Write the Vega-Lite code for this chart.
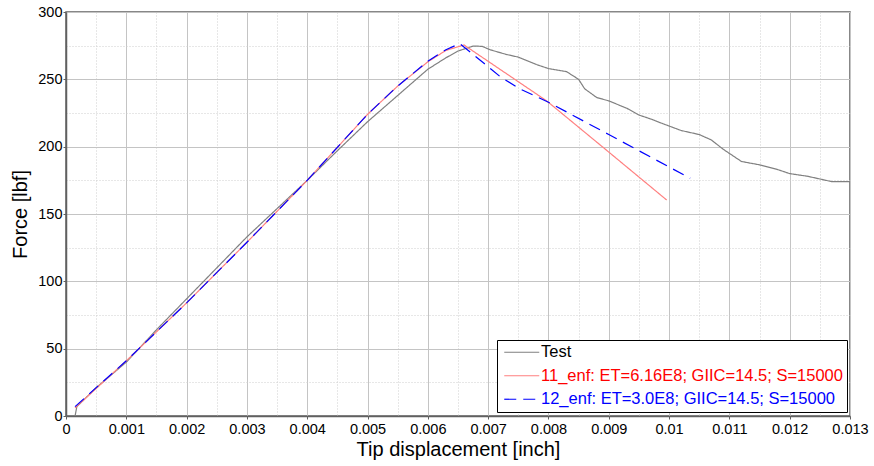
{
  "$schema": "https://vega.github.io/schema/vega-lite/v6.json",
  "width": 784,
  "height": 404,
  "autosize": {"type": "none"},
  "padding": {"left": 66, "top": 12, "right": 24, "bottom": 50},
  "background": "white",
  "config": {
    "view": {"stroke": "#606060", "strokeWidth": 1.5},
    "font": "Liberation Sans",
    "axis": {
      "labelFont": "Liberation Sans", "labelFontSize": 14.5, "labelColor": "#000",
      "titleFont": "Liberation Sans", "titleFontSize": 20, "titleFontWeight": "normal", "titleColor": "#000",
      "domainColor": "#606060", "domainWidth": 1.5,
      "tickColor": "#606060", "tickSize": 3
    }
  },
  "datasets": {
    "curves": [
      {"series": "Test", "disp": 0.00015, "force": 0},
      {"series": "Test", "disp": 0.00018, "force": 7},
      {"series": "Test", "disp": 0.0005, "force": 21},
      {"series": "Test", "disp": 0.001, "force": 40},
      {"series": "Test", "disp": 0.0015, "force": 64},
      {"series": "Test", "disp": 0.002, "force": 87},
      {"series": "Test", "disp": 0.0025, "force": 110},
      {"series": "Test", "disp": 0.003, "force": 133},
      {"series": "Test", "disp": 0.0035, "force": 154},
      {"series": "Test", "disp": 0.004, "force": 175},
      {"series": "Test", "disp": 0.0045, "force": 197},
      {"series": "Test", "disp": 0.005, "force": 218.5},
      {"series": "Test", "disp": 0.0055, "force": 238},
      {"series": "Test", "disp": 0.006, "force": 257.5},
      {"series": "Test", "disp": 0.0063, "force": 266},
      {"series": "Test", "disp": 0.0065, "force": 271},
      {"series": "Test", "disp": 0.00675, "force": 274.7},
      {"series": "Test", "disp": 0.0069, "force": 274.5},
      {"series": "Test", "disp": 0.00703, "force": 272},
      {"series": "Test", "disp": 0.0073, "force": 268.5},
      {"series": "Test", "disp": 0.0075, "force": 266.5},
      {"series": "Test", "disp": 0.0078, "force": 261},
      {"series": "Test", "disp": 0.008, "force": 258},
      {"series": "Test", "disp": 0.0083, "force": 255.7},
      {"series": "Test", "disp": 0.0085, "force": 250},
      {"series": "Test", "disp": 0.0086, "force": 243},
      {"series": "Test", "disp": 0.0088, "force": 236.5},
      {"series": "Test", "disp": 0.009, "force": 234},
      {"series": "Test", "disp": 0.0093, "force": 228.5},
      {"series": "Test", "disp": 0.0095, "force": 223.5},
      {"series": "Test", "disp": 0.0097, "force": 220.5},
      {"series": "Test", "disp": 0.0099, "force": 217},
      {"series": "Test", "disp": 0.0102, "force": 212},
      {"series": "Test", "disp": 0.0105, "force": 209},
      {"series": "Test", "disp": 0.0107, "force": 205},
      {"series": "Test", "disp": 0.0109, "force": 198},
      {"series": "Test", "disp": 0.011, "force": 195},
      {"series": "Test", "disp": 0.0112, "force": 189},
      {"series": "Test", "disp": 0.0115, "force": 186.5},
      {"series": "Test", "disp": 0.0118, "force": 183},
      {"series": "Test", "disp": 0.012, "force": 180},
      {"series": "Test", "disp": 0.0123, "force": 178},
      {"series": "Test", "disp": 0.0126, "force": 175},
      {"series": "Test", "disp": 0.0127, "force": 174},
      {"series": "Test", "disp": 0.013, "force": 174},
      {"series": "11_enf: ET=6.16E8; GIIC=14.5; S=15000", "disp": 0.00015, "force": 6},
      {"series": "11_enf: ET=6.16E8; GIIC=14.5; S=15000", "disp": 0.001, "force": 41},
      {"series": "11_enf: ET=6.16E8; GIIC=14.5; S=15000", "disp": 0.002, "force": 84},
      {"series": "11_enf: ET=6.16E8; GIIC=14.5; S=15000", "disp": 0.003, "force": 129},
      {"series": "11_enf: ET=6.16E8; GIIC=14.5; S=15000", "disp": 0.004, "force": 175},
      {"series": "11_enf: ET=6.16E8; GIIC=14.5; S=15000", "disp": 0.005, "force": 224},
      {"series": "11_enf: ET=6.16E8; GIIC=14.5; S=15000", "disp": 0.0055, "force": 245},
      {"series": "11_enf: ET=6.16E8; GIIC=14.5; S=15000", "disp": 0.006, "force": 263},
      {"series": "11_enf: ET=6.16E8; GIIC=14.5; S=15000", "disp": 0.0063, "force": 271.5},
      {"series": "11_enf: ET=6.16E8; GIIC=14.5; S=15000", "disp": 0.0066, "force": 275.5},
      {"series": "11_enf: ET=6.16E8; GIIC=14.5; S=15000", "disp": 0.00797, "force": 234},
      {"series": "11_enf: ET=6.16E8; GIIC=14.5; S=15000", "disp": 0.0089, "force": 199.7},
      {"series": "11_enf: ET=6.16E8; GIIC=14.5; S=15000", "disp": 0.00996, "force": 160.4},
      {"series": "12_enf: ET=3.0E8; GIIC=14.5; S=15000", "disp": 0.00015, "force": 7},
      {"series": "12_enf: ET=3.0E8; GIIC=14.5; S=15000", "disp": 0.001, "force": 41},
      {"series": "12_enf: ET=3.0E8; GIIC=14.5; S=15000", "disp": 0.002, "force": 84},
      {"series": "12_enf: ET=3.0E8; GIIC=14.5; S=15000", "disp": 0.003, "force": 129},
      {"series": "12_enf: ET=3.0E8; GIIC=14.5; S=15000", "disp": 0.004, "force": 175},
      {"series": "12_enf: ET=3.0E8; GIIC=14.5; S=15000", "disp": 0.005, "force": 224},
      {"series": "12_enf: ET=3.0E8; GIIC=14.5; S=15000", "disp": 0.0055, "force": 245},
      {"series": "12_enf: ET=3.0E8; GIIC=14.5; S=15000", "disp": 0.006, "force": 263.5},
      {"series": "12_enf: ET=3.0E8; GIIC=14.5; S=15000", "disp": 0.0063, "force": 272},
      {"series": "12_enf: ET=3.0E8; GIIC=14.5; S=15000", "disp": 0.00653, "force": 276.5},
      {"series": "12_enf: ET=3.0E8; GIIC=14.5; S=15000", "disp": 0.0069, "force": 263},
      {"series": "12_enf: ET=3.0E8; GIIC=14.5; S=15000", "disp": 0.0072, "force": 252},
      {"series": "12_enf: ET=3.0E8; GIIC=14.5; S=15000", "disp": 0.0075, "force": 243.5},
      {"series": "12_enf: ET=3.0E8; GIIC=14.5; S=15000", "disp": 0.008, "force": 233},
      {"series": "12_enf: ET=3.0E8; GIIC=14.5; S=15000", "disp": 0.009, "force": 209},
      {"series": "12_enf: ET=3.0E8; GIIC=14.5; S=15000", "disp": 0.01035, "force": 176.5}
    ]
  },
  "data": {"name": "curves"},
  "mark": {"type": "line", "strokeWidth": 1.2},
  "encoding": {
    "x": {
      "field": "disp", "type": "quantitative",
      "scale": {"domain": [0, 0.013], "nice": false, "zero": false},
      "axis": {
        "title": "Tip displacement [inch]",
        "values": [0, 0.0005, 0.001, 0.0015, 0.002, 0.0025, 0.003, 0.0035, 0.004, 0.0045, 0.005, 0.0055, 0.006, 0.0065, 0.007, 0.0075, 0.008, 0.0085, 0.009, 0.0095, 0.01, 0.0105, 0.011, 0.0115, 0.012, 0.0125, 0.013],
        "format": "~f",
        "labelExpr": "abs(datum.value*1000 - round(datum.value*1000)) > 0.1 ? '' : datum.label",
        "labelPadding": 3,
        "titlePadding": 4,
        "labelOverlap": false,
        "labelFlush": false,
        "grid": true,
        "gridColor": {"condition": {"test": "abs(datum.value*1000 - round(datum.value*1000)) > 0.1", "value": "#cfcfcf"}, "value": "#c4c4c4"},
        "gridDash": {"condition": {"test": "abs(datum.value*1000 - round(datum.value*1000)) > 0.1", "value": [1, 2]}, "value": []},
        "tickOpacity": {"condition": {"test": "abs(datum.value*1000 - round(datum.value*1000)) > 0.1", "value": 0}, "value": 1}
      }
    },
    "y": {
      "field": "force", "type": "quantitative",
      "scale": {"domain": [0, 300], "nice": false},
      "axis": {
        "title": "Force [lbf]",
        "values": [0, 25, 50, 75, 100, 125, 150, 175, 200, 225, 250, 275, 300],
        "labelExpr": "datum.value % 50 != 0 ? '' : datum.label",
        "labelPadding": 1,
        "titlePadding": 7,
        "labelOverlap": false,
        "labelFlush": false,
        "grid": true,
        "gridColor": {"condition": {"test": "datum.value % 50 != 0", "value": "#cfcfcf"}, "value": "#c4c4c4"},
        "gridDash": {"condition": {"test": "datum.value % 50 != 0", "value": [1, 2]}, "value": []},
        "tickOpacity": {"condition": {"test": "datum.value % 50 != 0", "value": 0}, "value": 1}
      }
    },
    "color": {
      "field": "series", "type": "nominal",
      "scale": {
        "domain": ["Test", "11_enf: ET=6.16E8; GIIC=14.5; S=15000", "12_enf: ET=3.0E8; GIIC=14.5; S=15000"],
        "range": ["#808080", "#ff8080", "#0000ff"]
      },
      "legend": {
        "title": null,
        "orient": "none",
        "legendX": 431,
        "legendY": 328,
        "strokeColor": "#000",
        "fillColor": "#fff",
        "padding": 4,
        "symbolType": "M-3.5,0H3.5",
        "symbolSize": 100,
        "symbolStrokeWidth": 1.2,
        "symbolOffset": 12.5,
        "labelOffset": 11,
        "labelFont": "Liberation Sans",
        "labelFontSize": 16.5,
        "labelLimit": 500,
        "rowPadding": 6.5,
        "encode": {
          "labels": {"update": {"fill": {"signal": "datum.value === 'Test' ? '#000000' : substring(datum.value, 0, 3) === '11_' ? '#ff0000' : '#0000ff'"}}}
        }
      }
    },
    "strokeDash": {
      "field": "series", "type": "nominal",
      "scale": {
        "domain": ["Test", "11_enf: ET=6.16E8; GIIC=14.5; S=15000", "12_enf: ET=3.0E8; GIIC=14.5; S=15000"],
        "range": [[1, 0], [1, 0], [12, 7]]
      },
      "legend": {
        "title": null,
        "orient": "none",
        "legendX": 431,
        "legendY": 328,
        "strokeColor": "#000",
        "fillColor": "#fff",
        "padding": 4,
        "symbolType": "M-3.5,0H3.5",
        "symbolSize": 100,
        "symbolStrokeWidth": 1.2,
        "symbolOffset": 12.5,
        "labelOffset": 11,
        "labelFont": "Liberation Sans",
        "labelFontSize": 16.5,
        "labelLimit": 500,
        "rowPadding": 6.5,
        "encode": {
          "labels": {"update": {"fill": {"signal": "datum.value === 'Test' ? '#000000' : substring(datum.value, 0, 3) === '11_' ? '#ff0000' : '#0000ff'"}}}
        }
      }
    }
  }
}
